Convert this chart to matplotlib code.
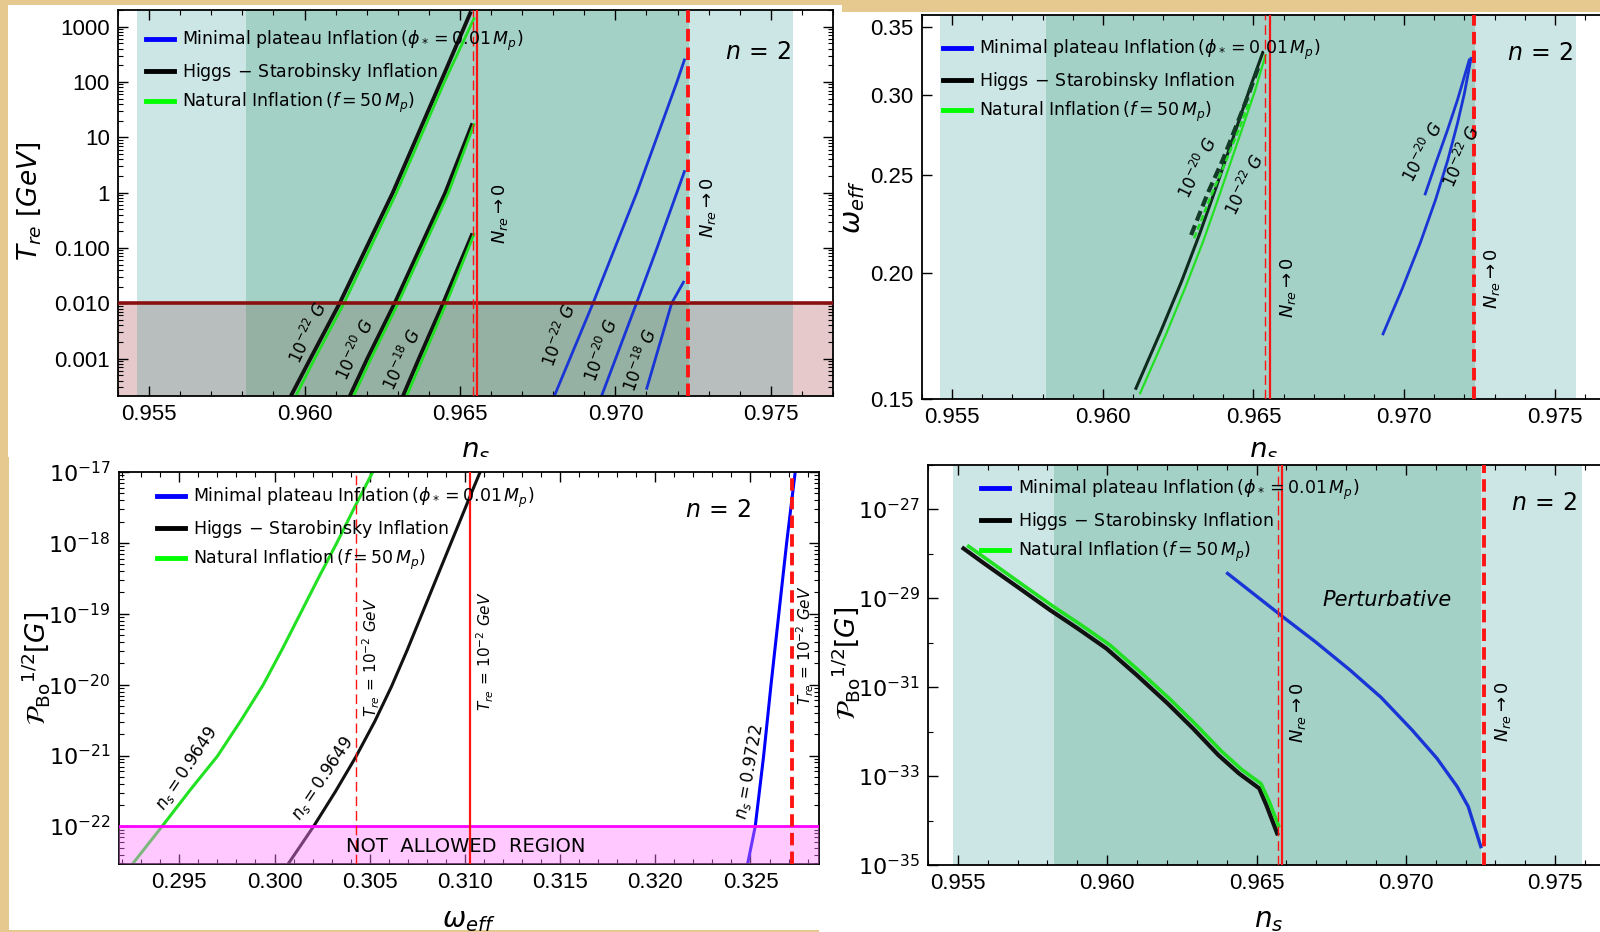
"""Four-panel reheating / magnetic field plot (T_re, w_eff, P_Bo vs n_s)."""
import numpy as np
import matplotlib
matplotlib.use("Agg")
import matplotlib.pyplot as plt
from matplotlib.lines import Line2D
from matplotlib.patches import Rectangle
from matplotlib.ticker import (FixedFormatter, FixedLocator, LogLocator,
                               MultipleLocator, NullFormatter, NullLocator)

plt.rcParams["font.family"] = ["DejaVu Sans"]
plt.rcParams["mathtext.fontset"] = "dejavusans"

W, H = 1600, 932

# ---------------- data ----------------
NS_LIM_TL = (0.954, 0.977)
NS_LIM_R = (0.954, 0.9765)
NS_TICKS = [0.955, 0.960, 0.965, 0.970, 0.975]
NS_TICKLABELS = ["0.955", "0.960", "0.965", "0.970", "0.975"]

BAND_LIGHT = (0.95461, 0.97572)
BAND_DARK = (0.95811, 0.97236)
BAND_LIGHT_BR = (0.95485, 0.97589)
BAND_DARK_BR = (0.95823, 0.97252)

# top-left: T_re [GeV] vs n_s
T_LIM = (2.1e-4, 2000)
T_TICKS = [1e-3, 1e-2, 1e-1, 1, 10, 100, 1000]
T_TICKLABELS = ["0.001", "0.010", "0.100", "1", "10", "100", "1000"]
T_CUT = 0.01

HS_T22_NS = [0.95954, 0.96019, 0.96113, 0.96284, 0.96438, 0.96533]
HS_T22 = [2.0e-4, 1e-3, 1e-2, 1, 100, 1750]
NI_T22_NS = [0.95970, 0.96033, 0.96127, 0.96296, 0.96450, 0.96545]
NI_T22 = [2.0e-4, 1e-3, 1e-2, 1, 100, 1400]
HS_T20_NS = [0.96144, 0.96202, 0.96290, 0.96453, 0.96538]
HS_T20 = [2.0e-4, 1e-3, 1e-2, 1, 16.6]
NI_T20_NS = [0.96156, 0.96214, 0.96301, 0.96463, 0.96545]
NI_T20 = [2.0e-4, 1e-3, 1e-2, 1, 17]
HS_T18_NS = [0.96315, 0.96368, 0.96446, 0.96538]
HS_T18 = [2.0e-4, 1e-3, 1e-2, 0.17]
NI_T18_NS = [0.96327, 0.96380, 0.96456, 0.96545]
NI_T18 = [2.0e-4, 1e-3, 1e-2, 0.175]
MP_T22_NS = [0.96802, 0.96928, 0.97069, 0.97198, 0.97222]
MP_T22 = [2.0e-4, 1e-2, 1, 100, 250]
MP_T20_NS = [0.96954, 0.97068, 0.97134, 0.97222]
MP_T20 = [2.0e-4, 1e-2, 0.1, 2.4]
MP_T18_NS = [0.97101, 0.97181, 0.97219]
MP_T18 = [2.9e-4, 0.01, 0.024]
NRE_TOP = (0.96542, 0.96554, 0.97234)   # thin dashed, solid, thick dashed

# top-right: w_eff vs n_s
W_LIM = (0.15, 0.36)
W_TICKS = [0.15, 0.20, 0.25, 0.30, 0.35]
W_TICKLABELS = ["0.15", "0.20", "0.25", "0.30", "0.35"]
HS_W22_NS = [0.96110, 0.96192, 0.96261, 0.96320, 0.96375, 0.96432, 0.96492, 0.96530]
HS_W22 = [0.1537, 0.1749, 0.1960, 0.2180, 0.2425, 0.2718, 0.3069, 0.3299]
NI_W22_NS = [0.96124, 0.96209, 0.96275, 0.96335, 0.96389, 0.96446, 0.96506, 0.96540]
NI_W22 = [0.1520, 0.1736, 0.1938, 0.2156, 0.2397, 0.2687, 0.3034, 0.3286]
HS_W20_NS = [0.96293, 0.96348, 0.96398, 0.96442, 0.96481, 0.96519]
HS_W20 = [0.2180, 0.2397, 0.2587, 0.2791, 0.2988, 0.3212]
NI_W20_NS = [0.96303, 0.96358, 0.96406, 0.96451, 0.96489]
NI_W20 = [0.2164, 0.2379, 0.2568, 0.2770, 0.2966]
MP_W22_NS = [0.96930, 0.96994, 0.97053, 0.97104, 0.97145, 0.97177, 0.97200, 0.97222]
MP_W22 = [0.1740, 0.1930, 0.2139, 0.2361, 0.2587, 0.2812, 0.3011, 0.3261]
MP_W20_NS = [0.97070, 0.97105, 0.97144, 0.97177, 0.97216]
MP_W20 = [0.2394, 0.2568, 0.2770, 0.2966, 0.3249]
NRE_TR = (0.96538, 0.96555, 0.97232)

# bottom-left: P_Bo^1/2 [G] vs w_eff
WEFF_LIM = (0.29183, 0.3286)
WEFF_TICKS = [0.295, 0.300, 0.305, 0.310, 0.315, 0.320, 0.325]
WEFF_TICKLABELS = ["0.295", "0.300", "0.305", "0.310", "0.315", "0.320", "0.325"]
PB_LIM_BL = (2.95e-23, 1e-17)
PB_TICKS_BL = [1e-22, 1e-21, 1e-20, 1e-19, 1e-18, 1e-17]
PB_CUT = 1e-22
NI_PW = [0.29258, 0.29409, 0.29558, 0.29700, 0.29826, 0.29940, 0.30040,
         0.30136, 0.30232, 0.30328, 0.30422, 0.30516]
NI_P = [3.05e-23, 1e-22, 3.3e-22, 9.8e-22, 3.2e-21, 9.9e-21, 3.15e-20,
        1.01e-19, 3.25e-19, 1.01e-18, 3.24e-18, 1e-17]
HS_PW = [0.30075, 0.30140, 0.30205, 0.30320, 0.30428, 0.30526, 0.30614,
         0.30697, 0.30772, 0.30847, 0.30922, 0.30983, 0.31040, 0.31080]
HS_P = [3.05e-23, 5.52e-23, 1e-22, 3.11e-22, 9.68e-22, 3.01e-21, 9.37e-21,
        3.08e-20, 9.59e-20, 2.99e-19, 9.29e-19, 2.33e-18, 5.52e-18, 1e-17]
MP_PW = [0.32486, 0.32525, 0.32569, 0.32608, 0.32649, 0.32690, 0.32735]
MP_P = [3.05e-23, 1e-22, 9.8e-22, 1e-20, 1e-19, 1e-18, 1e-17]
TRE_BL = (0.3043, 0.31025, 0.32717)

# bottom-right: P_Bo^1/2 [G] vs n_s
PB_LIM_BR = (1e-35, 1e-26)
PB_TICKS_BR = [1e-35, 1e-33, 1e-31, 1e-29, 1e-27]
PB_MINOR_BR = [1e-34, 1e-32, 1e-30, 1e-28, 1e-26]
HS_PN = [0.95519, 0.95588, 0.95707, 0.95809, 0.95901, 0.95997, 0.96099,
         0.96202, 0.96287, 0.96372, 0.96441, 0.96509, 0.96535, 0.96569]
HS_PN_P = [1.324e-28, 6.10e-29, 1.667e-29, 5.43e-30, 2.10e-30, 7.46e-31, 1.875e-31,
           4.33e-32, 1.186e-32, 2.98e-33, 1.15e-33, 5.30e-34, 2.05e-34, 5.15e-35]
NI_PN = [0.95536, 0.95603, 0.95720, 0.95821, 0.95913, 0.96009, 0.96110,
         0.96212, 0.96297, 0.96381, 0.96450, 0.96515, 0.96543, 0.96574]
NI_PN_P = [1.48e-28, 7.08e-29, 1.95e-29, 6.46e-30, 2.51e-30, 8.91e-31, 2.24e-31,
           5.25e-32, 1.445e-32, 3.72e-33, 1.41e-33, 6.76e-34, 2.63e-34, 7.59e-35]
MP_PN = [0.96403, 0.96493, 0.96595, 0.96697, 0.96813, 0.96917, 0.97021,
         0.97104, 0.97172, 0.97209, 0.97251]
MP_PN_P = [3.63e-29, 1.22e-29, 3.53e-30, 1.054e-30, 2.43e-31, 5.90e-32, 1.086e-32,
           2.51e-33, 5.77e-34, 2.05e-34, 2.58e-35]
NRE_BR = (0.96571, 0.96586, 0.9726)

LABELS = [r"Minimal plateau Inflation$\,(\phi_* = 0.01\,M_p)$",
          r"Higgs$\,-\,$Starobinsky Inflation",
          r"Natural Inflation$\,(f = 50\,M_p)$"]

# ---------------- style ----------------
C_BG = "#e6c98f"
C_LIGHT = "#cce5e5"
C_DARK = "#a3d1c6"
C_BLUE = "#1a35d6"
C_GREEN = "#22e022"
C_BLACK = "#111111"
C_RED = "#ff1414"
LOW_COLORS = ["#e6c9cb", "#b8bdbd", "#95b1a3", "#b8bdbd", "#e6c9cb"]
THICK_DASH = (0, (3.2, 1.6))
THIN_DASH = (0, (7, 3.5))


def px_rect(x0, y0, x1, y1):
    return [x0 / W, 1 - y1 / H, (x1 - x0) / W, (y1 - y0) / H]


def ftext(px, py, s, **kw):
    kw.setdefault("ha", "center")
    kw.setdefault("va", "center")
    fig.text(px / W, 1 - py / H, s, **kw)


def frame(ax, right=True):
    ax.tick_params(which="both", direction="in", top=True, right=right)
    ax.tick_params(which="major", length=7, width=1, labelsize=16, pad=6)
    ax.tick_params(which="minor", length=3.5, width=0.8)
    for s in ax.spines.values():
        s.set_linewidth(1.3)
    if not right:
        ax.spines["right"].set_visible(False)
    for lab in ax.get_xticklabels() + ax.get_yticklabels():
        lab.set_fontfamily(["Liberation Sans", "DejaVu Sans"])


def ns_axis(ax, lim):
    ax.set_xlim(*lim)
    ax.xaxis.set_major_locator(FixedLocator(NS_TICKS))
    ax.xaxis.set_major_formatter(FixedFormatter(NS_TICKLABELS))
    ax.xaxis.set_minor_locator(MultipleLocator(0.001))


def bands(ax, light, dark):
    ax.axvspan(*light, color=C_LIGHT, lw=0, zorder=0)
    ax.axvspan(*dark, color=C_DARK, lw=0, zorder=0.1)


def red_lines(ax, xs):
    ax.axvline(xs[0], color=C_RED, lw=1.0, ls=THIN_DASH, zorder=4)
    ax.axvline(xs[1], color=C_RED, lw=1.6, zorder=4)
    ax.axvline(xs[2], color=C_RED, lw=2.8, ls=THICK_DASH, zorder=4)


def legend(ax, x, y):
    handles = [Line2D([], [], color="#0000ff", lw=3.5),
               Line2D([], [], color="black", lw=3.5),
               Line2D([], [], color="#00ff00", lw=3.5)]
    ax.legend(handles, LABELS, loc="upper left", bbox_to_anchor=(x, y),
              frameon=False, fontsize=12.5, handlelength=1.6, handletextpad=0.5,
              labelspacing=0.45, borderaxespad=0, borderpad=0)


def pow_labels(vals):
    return [rf"$10^{{{int(round(np.log10(v)))}}}$" for v in vals]


fig = plt.figure(figsize=(W / 100, H / 100), dpi=100)
fig.patch.set_facecolor(C_BG)

# white "paper" panels
for (x0, y0, x1, y1), z in [((8, 5, 842, 457), -2), ((842, 12, 1600, 457), -2),
                            ((9, 457, 819, 930), 1), ((819, 457, 1600, 932), 1)]:
    fig.add_artist(Rectangle((x0 / W, 1 - y1 / H), (x1 - x0) / W, (y1 - y0) / H,
                             transform=fig.transFigure, facecolor="white",
                             edgecolor="none", zorder=z))

# ---------------- top-left ----------------
ax1 = fig.add_axes(px_rect(118, 10, 833, 396))
ax1.set_yscale("log")
ns_axis(ax1, NS_LIM_TL)
ax1.set_ylim(*T_LIM)
ax1.yaxis.set_major_locator(FixedLocator(T_TICKS))
ax1.yaxis.set_major_formatter(FixedFormatter(T_TICKLABELS))
ax1.yaxis.set_minor_locator(LogLocator(base=10, subs=np.arange(2, 10), numticks=100))
ax1.yaxis.set_minor_formatter(NullFormatter())
bands(ax1, BAND_LIGHT, BAND_DARK)
edges = [NS_LIM_TL[0], BAND_LIGHT[0], BAND_DARK[0], BAND_DARK[1], BAND_LIGHT[1], NS_LIM_TL[1]]
for a, b, c in zip(edges[:-1], edges[1:], LOW_COLORS):
    ax1.fill_between([a, b], T_LIM[0], T_CUT, color=c, lw=0, zorder=0.5)
ax1.axhline(T_CUT, color="#8a1010", lw=2.6, zorder=3)
for xs, ys in [(HS_T22_NS, HS_T22), (HS_T20_NS, HS_T20), (HS_T18_NS, HS_T18)]:
    ax1.plot(xs, ys, color=C_BLACK, lw=2.8, zorder=2)
for xs, ys in [(NI_T22_NS, NI_T22), (NI_T20_NS, NI_T20), (NI_T18_NS, NI_T18)]:
    ax1.plot(xs, ys, color=C_GREEN, lw=2.0, zorder=2.1)
for xs, ys in [(MP_T22_NS, MP_T22), (MP_T20_NS, MP_T20), (MP_T18_NS, MP_T18)]:
    ax1.plot(xs, ys, color=C_BLUE, lw=2.0, zorder=2)
red_lines(ax1, NRE_TOP)
legend(ax1, 0.039, 0.95)
ax1.set_ylabel(r"$T_{re}\ [GeV]$", fontsize=19, va="center", ha="center")
ax1.yaxis.set_label_coords(-0.124, 0.505)
ax1.set_xlabel(r"$n_s$", fontsize=20, va="center")
ax1.xaxis.set_label_coords(0.5, -0.142)
frame(ax1, right=True)

# ---------------- top-right ----------------
ax2 = fig.add_axes(px_rect(922, 15, 1600, 399))
ax2.set_yscale("log")
ns_axis(ax2, NS_LIM_R)
ax2.set_ylim(*W_LIM)
ax2.yaxis.set_major_locator(FixedLocator(W_TICKS))
ax2.yaxis.set_major_formatter(FixedFormatter(W_TICKLABELS))
ax2.yaxis.set_minor_locator(NullLocator())
bands(ax2, BAND_LIGHT, BAND_DARK)
ax2.plot(HS_W22_NS, HS_W22, color="#0e2a1c", lw=2.2, zorder=2)
ax2.plot(NI_W22_NS, NI_W22, color=C_GREEN, lw=1.6, zorder=2.1)
ax2.plot(HS_W20_NS, HS_W20, color="#123a26", lw=3.0, ls=(0, (2.5, 1.2)), zorder=2)
ax2.plot(NI_W20_NS, NI_W20, color=C_GREEN, lw=1.8, ls=(0, (2.5, 1.2)), zorder=2.2)
ax2.plot(MP_W22_NS, MP_W22, color=C_BLUE, lw=2.0, zorder=2)
ax2.plot(MP_W20_NS, MP_W20, color=C_BLUE, lw=2.0, zorder=2)
red_lines(ax2, NRE_TR)
legend(ax2, 0.031, 0.94)
ax2.set_ylabel(r"$\omega_{eff}$", fontsize=20, va="center", ha="center")
ax2.yaxis.set_label_coords(-0.102, 0.5)
ax2.set_xlabel(r"$n_s$", fontsize=20, va="center")
ax2.xaxis.set_label_coords(0.504, -0.135)
frame(ax2, right=False)

# ---------------- bottom-left ----------------
ax3 = fig.add_axes(px_rect(119, 472, 819, 864))
ax3.set_zorder(2)
ax3.set_yscale("log")
ax3.set_xlim(*WEFF_LIM)
ax3.set_ylim(*PB_LIM_BL)
ax3.xaxis.set_major_locator(FixedLocator(WEFF_TICKS))
ax3.xaxis.set_major_formatter(FixedFormatter(WEFF_TICKLABELS))
ax3.xaxis.set_minor_locator(MultipleLocator(0.001))
ax3.yaxis.set_major_locator(FixedLocator(PB_TICKS_BL))
ax3.yaxis.set_major_formatter(FixedFormatter(pow_labels(PB_TICKS_BL)))
ax3.yaxis.set_minor_locator(LogLocator(base=10, subs=np.arange(2, 10), numticks=100))
ax3.yaxis.set_minor_formatter(NullFormatter())
ax3.plot(NI_PW, NI_P, color=C_GREEN, lw=2.2, zorder=2)
ax3.plot(HS_PW, HS_P, color=C_BLACK, lw=2.2, zorder=2)
ax3.plot(MP_PW, MP_P, color="#0000ff", lw=2.2, zorder=2)
ax3.fill_between(WEFF_LIM, PB_LIM_BL[0], PB_CUT, color="#ff80ff", alpha=0.42,
                 lw=0, zorder=3)
ax3.axhline(PB_CUT, color="#ff00ff", lw=2.0, zorder=3.5)
red_lines(ax3, TRE_BL)
legend(ax3, 0.054, 0.965)
ax3.set_ylabel(r"$\mathcal{P}_{\mathrm{Bo}}{}^{1/2}[G]$", fontsize=19,
               va="center", ha="center")
ax3.yaxis.set_label_coords(-0.119, 0.5)
ax3.set_xlabel(r"$\omega_{eff}$", fontsize=20, va="center")
ax3.xaxis.set_label_coords(0.499, -0.143)
frame(ax3, right=True)

# ---------------- bottom-right ----------------
ax4 = fig.add_axes(px_rect(928, 465, 1600, 865))
ax4.set_zorder(2)
ax4.set_yscale("log")
ns_axis(ax4, NS_LIM_R)
ax4.set_ylim(*PB_LIM_BR)
ax4.yaxis.set_major_locator(FixedLocator(PB_TICKS_BR))
ax4.yaxis.set_major_formatter(FixedFormatter(pow_labels(PB_TICKS_BR)))
ax4.yaxis.set_minor_locator(FixedLocator(PB_MINOR_BR))
ax4.yaxis.set_minor_formatter(NullFormatter())
bands(ax4, BAND_LIGHT_BR, BAND_DARK_BR)
ax4.plot(HS_PN, HS_PN_P, color=C_BLACK, lw=3.0, zorder=2)
ax4.plot(NI_PN, NI_PN_P, color=C_GREEN, lw=2.6, zorder=2.1)
ax4.plot(MP_PN, MP_PN_P, color=C_BLUE, lw=2.4, zorder=2)
red_lines(ax4, NRE_BR)
legend(ax4, 0.079, 0.967)
ax4.set_ylabel(r"$\mathcal{P}_{\mathrm{Bo}}{}^{1/2}[G]$", fontsize=19,
               va="center", ha="center")
ax4.yaxis.set_label_coords(-0.122, 0.505)
ax4.set_xlabel(r"$n_s$", fontsize=20, va="center")
ax4.xaxis.set_label_coords(0.507, -0.1375)
frame(ax4, right=False)

# ---------------- annotations ----------------
for px, py in [(758, 52), (1540, 53), (718, 510), (1544, 503)]:
    ftext(px, py, r"$n\,=\,2$", fontsize=17, zorder=5)

nre = r"$N_{re}\rightarrow 0$"
for px, py in [(500, 213), (708, 207), (1288, 287), (1492, 278), (1298, 712), (1503, 711)]:
    ftext(px, py, nre, fontsize=13, rotation=90, zorder=5)

for px, py, s, rot in [(309, 333, r"$10^{-22}\ G$", 65), (356, 350, r"$10^{-20}\ G$", 65),
                       (403, 360, r"$10^{-18}\ G$", 65), (560, 335, r"$10^{-22}\ G$", 70),
                       (602, 350, r"$10^{-20}\ G$", 70), (641, 360, r"$10^{-18}\ G$", 70),
                       (1198, 168, r"$10^{-20}\ G$", 64), (1245, 185, r"$10^{-22}\ G$", 64),
                       (1423, 152, r"$10^{-20}\ G$", 62), (1462, 157, r"$10^{-22}\ G$", 66)]:
    ftext(px, py, s, fontsize=12, rotation=rot, zorder=5)

for px, py, s, rot in [(187, 768, r"$n_s = 0.9649$", 56), (323, 778, r"$n_s = 0.9649$", 56),
                       (749, 772, r"$n_s = 0.9722$", 80)]:
    ftext(px, py, s, fontsize=12, rotation=rot, zorder=5)

for px, py in [(371, 657), (485, 651), (805, 645)]:
    ftext(px, py, r"$T_{re}\,=\,10^{-2}\ GeV$", fontsize=11, rotation=90, zorder=5)

ftext(466, 847, "NOT  ALLOWED  REGION", fontsize=14, zorder=5)
ftext(1387, 600, "Perturbative", fontsize=15, style="italic", zorder=5)

fig.savefig("out.png", dpi=100, facecolor=fig.get_facecolor())
